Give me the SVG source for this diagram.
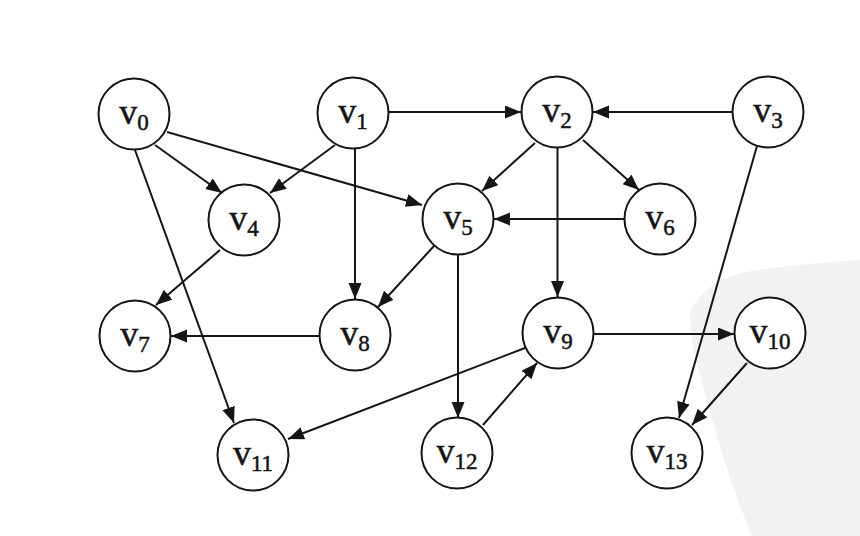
<svg xmlns="http://www.w3.org/2000/svg" width="860" height="536" viewBox="0 0 860 536">
<defs>
<style>
.node circle{fill:#fff;stroke:#151515;stroke-width:2}
.node text{font-family:"Liberation Serif","Times New Roman",serif;font-size:36px;fill:#151515;stroke:#151515;stroke-width:0.5;text-anchor:middle}
.node tspan{font-size:23px}
#edges line{stroke:#151515;stroke-width:2;marker-end:url(#arr)}
</style>
<marker id="arr" markerUnits="userSpaceOnUse" markerWidth="18" markerHeight="14" refX="16" refY="6.5" orient="auto">
<path d="M0,0 L16,6.5 L0,13 z" fill="#151515"/>
</marker>
</defs>
<rect width="860" height="536" fill="#fff"/>
<path d="M690,313 C700,290 720,278 745,272 C790,265 830,262 860,260 L860,536 L752,536 C735,495 720,450 710,410 C700,375 690,345 690,313 z" fill="#f2f2f2"/>
<g id="edges">
<line x1="155" y1="145" x2="222" y2="193"/>
<line x1="167" y1="132" x2="422" y2="205"/>
<line x1="135" y1="150" x2="234" y2="423"/>
<line x1="389" y1="112" x2="521" y2="112"/>
<line x1="335" y1="145" x2="270" y2="193"/>
<line x1="355" y1="148" x2="355" y2="299"/>
<line x1="535" y1="143" x2="482" y2="191"/>
<line x1="583" y1="140" x2="639" y2="190"/>
<line x1="557.5" y1="148" x2="557.5" y2="297"/>
<line x1="732" y1="112" x2="593" y2="112"/>
<line x1="757" y1="146" x2="679" y2="418"/>
<line x1="220" y1="250" x2="156" y2="305"/>
<line x1="434" y1="246" x2="378" y2="307"/>
<line x1="458" y1="254" x2="458" y2="418"/>
<line x1="624" y1="219" x2="494" y2="219"/>
<line x1="320" y1="336" x2="171" y2="336"/>
<line x1="594" y1="334" x2="734" y2="334"/>
<line x1="525" y1="348" x2="288" y2="439"/>
<line x1="747" y1="363" x2="692" y2="425"/>
<line x1="483" y1="425" x2="537" y2="363"/>
</g>
<g id="v0" class="node"><circle cx="134" cy="114" r="35.5"/><text x="134" y="124">v<tspan dy="6">0</tspan></text></g>
<g id="v1" class="node"><circle cx="353" cy="113" r="35.5"/><text x="353" y="123">v<tspan dy="6">1</tspan></text></g>
<g id="v2" class="node"><circle cx="557" cy="112" r="35.5"/><text x="557" y="122">v<tspan dy="6">2</tspan></text></g>
<g id="v3" class="node"><circle cx="768" cy="112" r="35.5"/><text x="768" y="122">v<tspan dy="6">3</tspan></text></g>
<g id="v4" class="node"><circle cx="244" cy="220" r="35.5"/><text x="244" y="230">v<tspan dy="6">4</tspan></text></g>
<g id="v5" class="node"><circle cx="458" cy="219" r="35.5"/><text x="458" y="229">v<tspan dy="6">5</tspan></text></g>
<g id="v6" class="node"><circle cx="660" cy="219" r="35.5"/><text x="660" y="229">v<tspan dy="6">6</tspan></text></g>
<g id="v7" class="node"><circle cx="135" cy="336" r="35.5"/><text x="135" y="346">v<tspan dy="6">7</tspan></text></g>
<g id="v8" class="node"><circle cx="355" cy="335" r="35.5"/><text x="355" y="345">v<tspan dy="6">8</tspan></text></g>
<g id="v9" class="node"><circle cx="558" cy="333" r="35.5"/><text x="558" y="343">v<tspan dy="6">9</tspan></text></g>
<g id="v10" class="node"><circle cx="770" cy="333" r="35.5"/><text x="770" y="343">v<tspan dy="6">10</tspan></text></g>
<g id="v11" class="node"><circle cx="253" cy="455" r="35.5"/><text x="253" y="465">v<tspan dy="6">11</tspan></text></g>
<g id="v12" class="node"><circle cx="457" cy="453" r="35.5"/><text x="457" y="463">v<tspan dy="6">12</tspan></text></g>
<g id="v13" class="node"><circle cx="667" cy="453" r="35.5"/><text x="667" y="463">v<tspan dy="6">13</tspan></text></g>
</svg>
